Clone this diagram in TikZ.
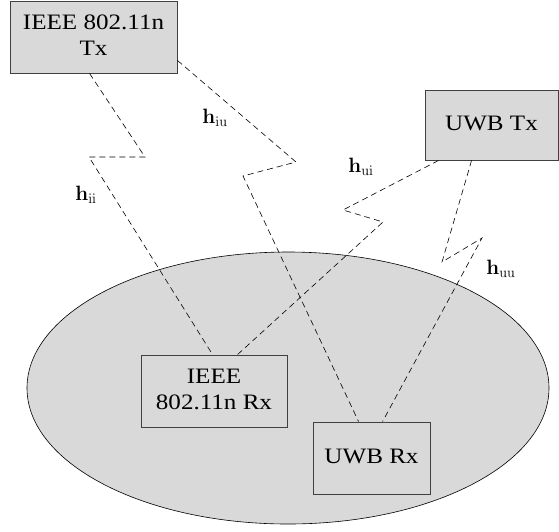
\documentclass[tikz,border=0pt]{standalone}
\usepackage[no-math]{fontspec}
\setmainfont{Liberation Serif}
\usetikzlibrary{calc}
\definecolor{fillg}{RGB}{217,217,217}
\definecolor{edgeg}{RGB}{64,64,64}
\newcommand{\widetxt}[1]{\scalebox{1.14}[1]{\begin{tabular}{@{}c@{}}#1\end{tabular}}}
\tikzset{
  devbox/.style={draw=edgeg, line width=0.9pt, fill=fillg, inner sep=0pt, align=center,
    font=\fontsize{22}{26.5}\selectfont},
  chan/.style={draw=black, line width=0.6pt, dash pattern=on 6pt off 4pt},
  chlabel/.style={font=\fontsize{21}{24}\selectfont, inner sep=0pt}
}
\begin{document}
\begin{tikzpicture}[x=1pt,y=-1pt]
\useasboundingbox (0,0) rectangle (559,531);
\fill[white] (0,0) rectangle (559,531);
% cell ellipse
\draw[fill=fillg, draw=black, line width=0.6pt] (288,388) ellipse [x radius=261, y radius=136];
% devices
\node[devbox, minimum width=167pt, minimum height=72pt] (itx) at (93.5,37) {\widetxt{IEEE 802.11n\\Tx}};
\node[devbox, minimum width=133pt, minimum height=70pt] (utx) at (491.5,125) {\widetxt{UWB Tx}};
\node[devbox, minimum width=146pt, minimum height=72pt] (irx) at (214,391) {\widetxt{IEEE\\802.11n Rx}};
\node[devbox, minimum width=117pt, minimum height=72pt] (urx) at (371.5,458) {\widetxt{UWB Rx}};
% bend points
\coordinate (ii1) at (145,157);
\coordinate (ii2) at (89,157);
\coordinate (iu1) at (296,162);
\coordinate (iu2) at (243,176);
\coordinate (ui1) at (343,210);
\coordinate (ui2) at (383,222);
\coordinate (uu1) at (442,262);
\coordinate (uu2) at (482,238);
% channels
\draw[chan] ([xshift=80pt]itx.south west) -- (ii1) -- (ii2) -- ([xshift=72pt]irx.north west);
\draw[chan] ([yshift=13pt]itx.south east) -- (iu1) -- (iu2) -- ([xshift=46pt]urx.north west);
\draw[chan] ([xshift=14pt]utx.south west) -- (ui1) -- (ui2) -- ([xshift=97pt]irx.north west);
\draw[chan] ([xshift=47pt]utx.south west) -- (uu1) -- (uu2) -- ([xshift=70pt]urx.north west);
% labels
\node[chlabel] (lii) at (86,195) {$\mathbf{h}_{\mathrm{ii}}$};
\node[chlabel] (liu) at (215,118) {$\mathbf{h}_{\mathrm{iu}}$};
\node[chlabel] (lui) at (361,167) {$\mathbf{h}_{\mathrm{ui}}$};
\node[chlabel] (luu) at (501,269) {$\mathbf{h}_{\mathrm{uu}}$};
\end{tikzpicture}
\end{document}
